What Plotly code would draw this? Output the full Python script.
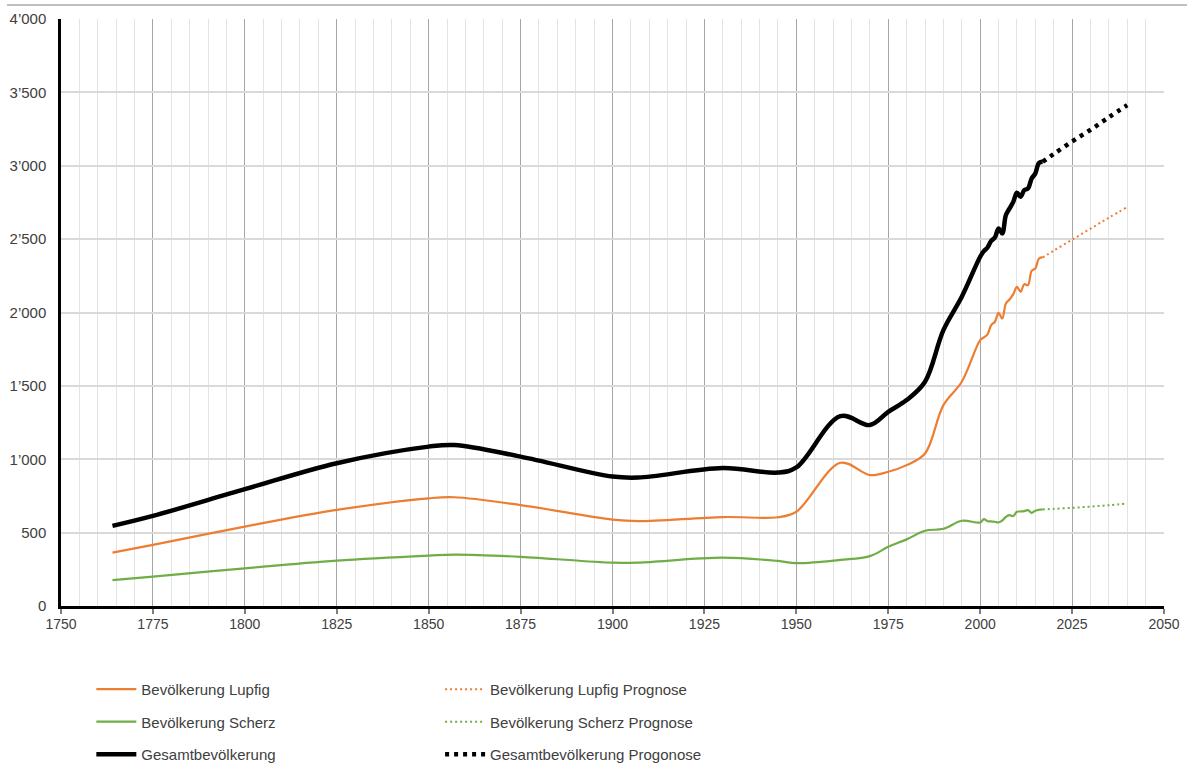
import plotly.graph_objects as go

# ---------------- data ----------------
years_hist = [1764, 1775, 1800, 1825, 1850, 1857, 1875, 1900, 1907, 1930, 1945, 1950,
              1962, 1970, 1975, 1980, 1985, 1990, 1995,
              2000, 2001, 2002, 2003, 2004, 2005, 2006, 2007, 2008, 2009,
              2010, 2011, 2012, 2013, 2014, 2015, 2016, 2017]

lupfig = [364, 416, 541, 655, 734, 741, 688, 588, 578, 606, 605, 642,
          976, 892, 915, 960, 1039, 1369, 1528,
          1812, 1830, 1851, 1914, 1937, 1998, 1959, 2062, 2089, 2125,
          2175, 2141, 2193, 2186, 2284, 2300, 2368, 2375]

scherz = [177, 200, 257, 309, 343, 350, 335, 295, 296, 329, 307, 292,
          314, 340, 403, 454, 513, 526, 581,
          569, 592, 578, 576, 574, 569, 581, 608, 619, 613,
          642, 644, 647, 653, 635, 649, 656, 658]

gesamt = [546, 614, 796, 973, 1086, 1097, 1018, 882, 875, 940, 909, 944,
          1294, 1233, 1323, 1403, 1528, 1880, 2107,
          2380, 2418, 2443, 2488, 2511, 2573, 2539, 2664, 2709, 2754,
          2816, 2789, 2834, 2845, 2913, 2948, 3020, 3027]

years_prog = [2017, 2020, 2025, 2030, 2035, 2040]
lupfig_prog = [2375, 2421, 2496, 2571, 2646, 2718]
scherz_prog = [658, 662, 669, 677, 687, 699]
gesamt_prog = [3027, 3080, 3165, 3245, 3330, 3413]

y_tickvals = [0, 500, 1000, 1500, 2000, 2500, 3000, 3500, 4000]
y_ticktext = ["0", "500", "1\u2019000", "1\u2019500", "2\u2019000", "2\u2019500",
              "3\u2019000", "3\u2019500", "4\u2019000"]
x_tickvals = [1750, 1775, 1800, 1825, 1850, 1875, 1900, 1925, 1950, 1975, 2000, 2025, 2050]

ORANGE = "#ED7D31"
GREEN = "#70AD47"
BLACK = "#000000"
FONT = "Liberation Sans, Arial, sans-serif"
TEXT = "#404040"

fig = go.Figure()

def add(x, y, name, color, width, dash, legend):
    fig.add_trace(go.Scatter(
        x=x, y=y, name=name, mode="lines",
        line=dict(color=color, width=width, dash=dash, shape="spline", smoothing=1.0),
        legend=legend, legendgroup=name, hoverinfo="x+y+name"))

add(years_hist, lupfig, "Bevölkerung Lupfig", ORANGE, 2.2, "solid", "legend")
add(years_hist, scherz, "Bevölkerung Scherz", GREEN, 2.2, "solid", "legend")
add(years_hist, gesamt, "Gesamtbevölkerung", BLACK, 4.5, "solid", "legend")
add(years_prog, lupfig_prog, "Bevölkerung Lupfig Prognose", ORANGE, 2, "2px,3px", "legend2")
add(years_prog, scherz_prog, "Bevölkerung Scherz Prognose", GREEN, 2, "2px,3px", "legend2")
add(years_prog, gesamt_prog, "Gesamtbevölkerung Progonose", BLACK, 4.5, "4px,5px", "legend2")

legend_common = dict(orientation="v", xanchor="left", yanchor="top",
                     tracegroupgap=10, itemwidth=40, bgcolor="rgba(0,0,0,0)",
                     font=dict(family=FONT, size=15, color=TEXT))

fig.update_layout(
    width=1187, height=763,
    margin=dict(l=61, r=23, t=19, b=157, autoexpand=False),
    paper_bgcolor="white", plot_bgcolor="white",
    font=dict(family=FONT, size=14, color=TEXT),
    showlegend=True,
    legend=dict(x=0.0275, y=-0.114, **legend_common),
    legend2=dict(x=0.3437, y=-0.114, **legend_common),
    xaxis=dict(
        range=[1750, 2050], tickvals=x_tickvals,
        showgrid=True, gridcolor="#A6A6A6", gridwidth=1.3,
        minor=dict(dtick=5, tick0=1750, showgrid=True, gridcolor="#E3E3E3", gridwidth=1.3),
        showline=True, linecolor="black", linewidth=2.5,
        ticks="outside", ticklen=5, tickwidth=1.5, tickcolor="#7F7F7F",
        ticklabelstandoff=-2,
        zeroline=False, tickfont=dict(family=FONT, size=14, color=TEXT),
    ),
    yaxis=dict(
        range=[0, 4000], tickvals=y_tickvals, ticktext=y_ticktext,
        showgrid=True, gridcolor="#D9D9D9", gridwidth=1.5,
        showline=True, linecolor="black", linewidth=2.5,
        ticks="", zeroline=False, ticklabelstandoff=9,
        tickfont=dict(family=FONT, size=15, color=TEXT),
    ),
    shapes=[dict(type="line", xref="paper", yref="paper",
                 x0=-0.049, x1=1.03, y0=1.0239, y1=1.0239,
                 line=dict(color="#BFBFBF", width=2))],
)

fig.write_html(
    "out.html",
    config={"displayModeBar": False},
    post_script="document.body.style.margin='0';document.body.style.overflow='hidden';",
)
